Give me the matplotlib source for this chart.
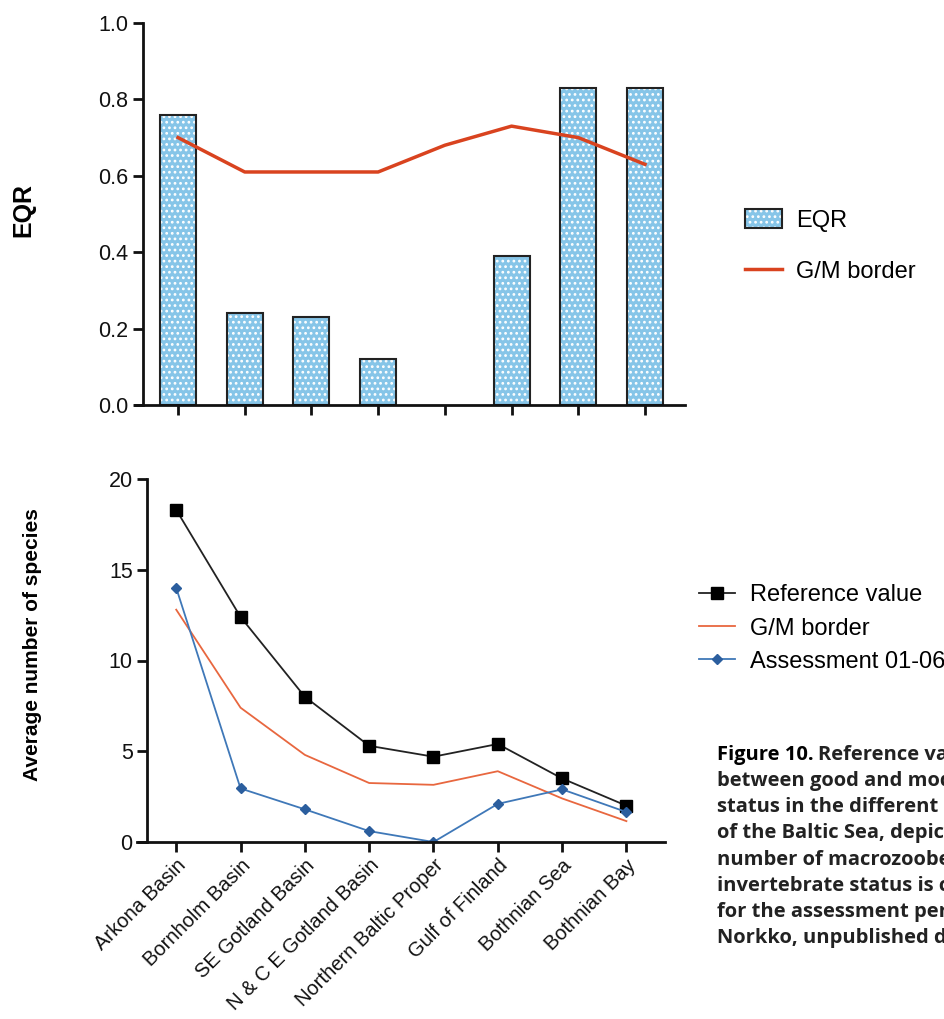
import matplotlib.pyplot as plt
from matplotlib.patches import Patch
from matplotlib.lines import Line2D
from matplotlib.legend_handler import HandlerTuple

plt.rcParams['font.family'] = ['Liberation Sans', 'DejaVu Sans']
plt.rcParams['hatch.linewidth'] = 1.2

basins = ["Arkona Basin", "Bornholm Basin", "SE Gotland Basin", "N & C E Gotland Basin",
          "Northern Baltic Proper", "Gulf of Finland", "Bothnian Sea", "Bothnian Bay"]

# top panel
eqr = [0.76, 0.24, 0.23, 0.12, 0.0, 0.39, 0.83, 0.83]
eqr_border = [0.70, 0.61, 0.61, 0.61, 0.68, 0.73, 0.70, 0.63]

# bottom panel
ref_value = [18.3, 12.4, 8.0, 5.3, 4.7, 5.4, 3.5, 2.0]
gm_border = [12.8, 7.4, 4.8, 3.25, 3.15, 3.9, 2.4, 1.15]
assessment = [14.0, 2.95, 1.8, 0.6, 0.0, 2.1, 2.9, 1.65]

bar_blue = '#86c5e8'
red = '#d9431f'

fig = plt.figure(figsize=(9.44, 10.19), dpi=100)
W, H = 944, 1019

def style(ax, yaxis_at):
    for s in ['top', 'right']:
        ax.spines[s].set_visible(False)
    for s in ['left', 'bottom']:
        ax.spines[s].set_linewidth(2)
        ax.spines[s].set_color('#111111')
    # x axis line runs a little past the y axis, Prism style
    ax.spines['left'].set_position(('data', yaxis_at))
    ax.tick_params(direction='out', length=7, width=2, labelsize=15.5, colors='#111111')

x = list(range(len(basins)))

# ---- EQR panel
ax1 = fig.add_axes([135 / W, 1 - 405 / H, (685 - 135) / W, (405 - 23) / H])
# no bar is drawn where there is no EQR value
bx = [i for i, v in zip(x, eqr) if v > 0]
bv = [v for v in eqr if v > 0]
ax1.bar(bx, bv, width=0.54, color=bar_blue, edgecolor='white', hatch='...', linewidth=0)
ax1.bar(bx, bv, width=0.54, fill=False, edgecolor='#222222', linewidth=1.5)
ax1.plot(x, eqr_border, color=red, lw=2.5)
ax1.set_xlim(-0.645, 7.6)
ax1.set_ylim(0, 1.0)
ax1.set_yticks([0, 0.2, 0.4, 0.6, 0.8, 1.0])
ax1.set_yticklabels(['0.0', '0.2', '0.4', '0.6', '0.8', '1.0'])
ax1.set_xticks(x)
ax1.set_xticklabels([])
style(ax1, -0.525)
fig.text(23 / W, 1 - 210 / H, 'EQR', rotation=90, fontsize=18, fontweight='bold',
         ha='center', va='center')

h_fill = Patch(facecolor=bar_blue, edgecolor='white', hatch='...', linewidth=0)
h_edge = Patch(fill=False, edgecolor='#222222', linewidth=1.5)
h_line = Line2D([], [], color=red, lw=2.5)
fig.legend([(h_fill, h_edge), h_line], ['EQR', 'G/M border'],
           handler_map={tuple: HandlerTuple(ndivide=1)},
           loc='upper left', bbox_to_anchor=(736 / W, 1 - 200 / H), frameon=False,
           fontsize=17, handlelength=1.55, handleheight=0.85, labelspacing=1.2,
           handletextpad=0.6, borderaxespad=0)

# ---- species panel
ax2 = fig.add_axes([137 / W, 1 - 842 / H, (665 - 137) / W, (842 - 479) / H])
ax2.plot(x, ref_value, color='#222222', lw=1.3, marker='s', ms=9, mfc='black', mec='black',
         label='Reference value')
ax2.plot(x, gm_border, color='#e8673f', lw=1.3, label='G/M border')
ax2.plot(x, assessment, color='#3f78b8', lw=1.3, marker='D', ms=5.5, mfc='#2b5e9e',
         mec='#2b5e9e', label='Assessment 01-06')
ax2.set_xlim(-0.61, 7.6)
ax2.set_ylim(0, 20)
ax2.set_yticks([0, 5, 10, 15, 20])
ax2.set_xticks(x)
ax2.set_xticklabels(basins, rotation=45, ha='right', rotation_mode='anchor')
style(ax2, -0.45)
ax2.tick_params(axis='x', labelsize=14.5, pad=3)
fig.text(33 / W, 1 - 645 / H, 'Average number of species', rotation=90, fontsize=15,
         fontweight='bold', ha='center', va='center')
ax2.legend(loc='upper left', bbox_to_anchor=(690 / W, 1 - 575 / H),
           bbox_transform=fig.transFigure, frameon=False, fontsize=17,
           handlelength=1.5, labelspacing=0.47, handletextpad=0.64, borderaxespad=0)

# caption, cut off by the page edge as in the source page
caption = ["between good and moderate invertebrate",
           "status in the different sub-basins",
           "of the Baltic Sea, depicted as average",
           "number of macrozoobenthic species. The",
           "invertebrate status is compared",
           "for the assessment period 2001-2006",
           "Norkko, unpublished data)."]
cap_font = ['Open Sans', 'DejaVu Sans']
fig.text(717 / W, 1 - 755 / H, 'Figure 10.', fontsize=14.5, fontweight='bold',
         family=cap_font, va='center', color='black')
fig.text(818 / W, 1 - 755 / H, 'Reference values and the border', fontsize=14.5,
         fontweight='bold', family=cap_font, va='center', color='#222222')
for i, line in enumerate(caption):
    fig.text(717 / W, 1 - (781 + 26.2 * i) / H, line, fontsize=14.5, fontweight='bold',
             family=cap_font, va='center', color='#222222')

fig.savefig('out.png', dpi=100)
